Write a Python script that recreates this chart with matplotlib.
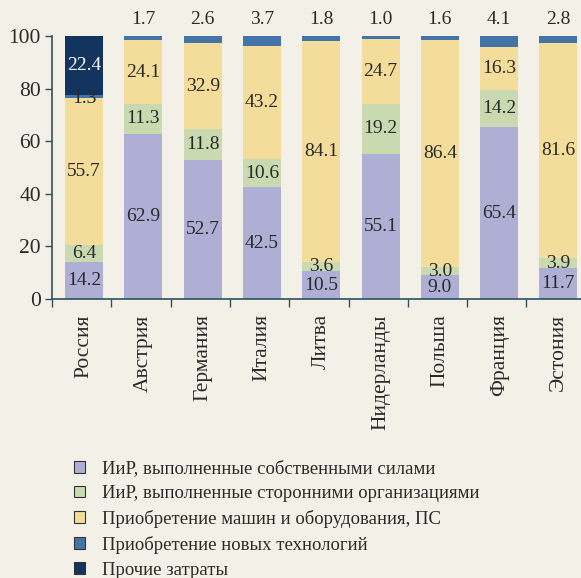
import matplotlib.pyplot as plt
import numpy as np
from matplotlib.patches import Patch

plt.rcParams['font.family'] = ['Liberation Serif', 'DejaVu Serif']

# Данные
countries = ['Россия', 'Австрия', 'Германия', 'Италия', 'Литва',
             'Нидерланды', 'Польша', 'Франция', 'Эстония']
own_rd = [14.2, 62.9, 52.7, 42.5, 10.5, 55.1, 9.0, 65.4, 11.7]
ext_rd = [6.4, 11.3, 11.8, 10.6, 3.6, 19.2, 3.0, 14.2, 3.9]
machines = [55.7, 24.1, 32.9, 43.2, 84.1, 24.7, 86.4, 16.3, 81.6]
new_tech = [1.3, 1.7, 2.6, 3.7, 1.8, 1.0, 1.6, 4.1, 2.8]
other = [22.4, 0, 0, 0, 0, 0, 0, 0, 0]

series_names = ['ИиР, выполненные собственными силами',
                'ИиР, выполненные сторонними организациями',
                'Приобретение машин и оборудования, ПС',
                'Приобретение новых технологий',
                'Прочие затраты']
series = [own_rd, ext_rd, machines, new_tech, other]
colors = ['#afafd6', '#c9d9b0', '#f4dc9b', '#4374a8', '#12345e']

bg = '#f3f1e7'
axis_col = '#2c5262'
txt_col = '#2a2a2a'

fig = plt.figure(figsize=(5.81, 5.78), dpi=100, facecolor=bg)
ax = fig.add_axes([0.0895, 0.4827, 0.9105, 0.455])
ax.set_facecolor(bg)

x = np.arange(len(countries))
xb = x + 0.04
width = 0.64
bottom = np.zeros(len(countries))
for k, (vals, col) in enumerate(zip(series, colors)):
    vals = np.array(vals)
    ax.bar(xb, vals, width, bottom=bottom, color=col, linewidth=0, zorder=2)
    for i, v in enumerate(vals):
        if v <= 0:
            continue
        if k == 3 and i != 0:
            # верхний сегмент — подпись над столбцом
            ax.text(xb[i], 106.3, f'{v:.1f}', ha='center', va='center',
                    fontsize=14, color=txt_col, clip_on=False)
        else:
            yc = bottom[i] + v / 2
            if k == 3 and i == 0:
                yc -= 0.7
            ax.text(xb[i], yc, f'{v:.1f}', ha='center', va='center',
                    fontsize=14, color='white' if k == 4 else txt_col)
    bottom += vals

ax.set_xlim(-0.5, 8.42)
ax.set_ylim(0, 100)
ax.set_yticks(np.arange(0, 101, 20))
ax.set_xticks(np.arange(-0.5, 8.5, 1.0))
ax.set_xticklabels([])
ax.set_xticks(xb, minor=True)
ax.set_xticklabels(countries, minor=True, rotation=90, fontsize=15.5,
                   color=txt_col)
ax.tick_params(axis='x', which='minor', length=0, pad=11)
ax.tick_params(axis='x', which='major', length=6, color=axis_col, width=1)
ax.tick_params(axis='y', length=5, color=axis_col, width=1, labelsize=15.5,
               labelcolor=txt_col, pad=3)

for s in ['top', 'right']:
    ax.spines[s].set_visible(False)
for s in ['left', 'bottom']:
    ax.spines[s].set_color(axis_col)
    ax.spines[s].set_linewidth(1.2)

handles = [Patch(facecolor=c, edgecolor='#333333', linewidth=0.8) for c in colors]
fig.legend(handles, series_names, loc='upper left',
           bbox_to_anchor=(0.098, 0.233), frameon=False, fontsize=13.5,
           handlelength=0.6, handleheight=0.6, handletextpad=0.9,
           labelspacing=0.42, labelcolor=txt_col)

plt.savefig('out.png', dpi=100, facecolor=bg)
